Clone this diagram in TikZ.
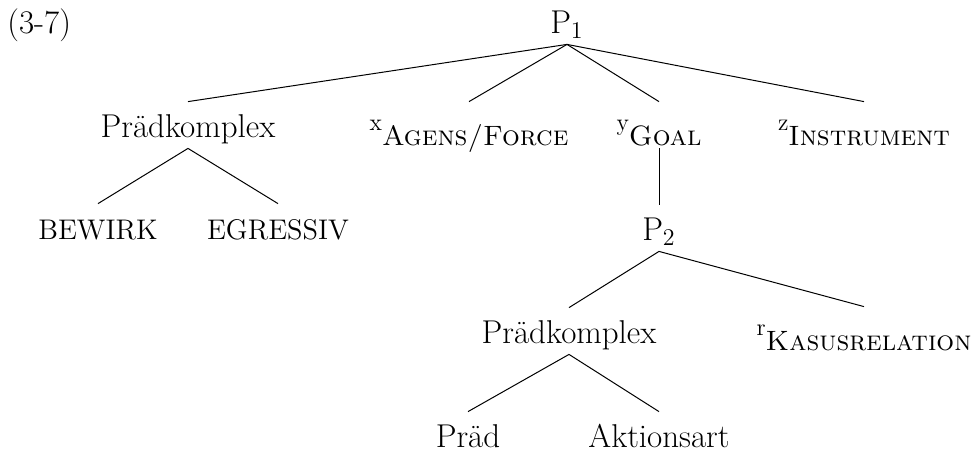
\documentclass[tikz,border=0pt]{standalone}
\usepackage{amsmath,amssymb}
\usepackage{xcolor}
\usepackage{tikz}

\newcommand{\argsub}[2]{\raisebox{7.5pt}{\fontsize{12}{14}\selectfont #1}{\fontsize{14}{17}\selectfont\textsc{#2}}}

\tikzset{
    lab/.style={anchor=base, inner sep=0pt, text height=17.5pt, text depth=5.5pt,
        font=\fontsize{16.5}{20}\selectfont},
    arglab/.style={lab, text height=21.5pt, text depth=1.5pt},
    capslab/.style={lab, font=\fontsize{14.2}{17}\selectfont},
    branch/.style={draw=black, line width=0.5pt}
}

\begin{document}
\begin{tikzpicture}[x=0.5pt, y=-0.5pt]
                \useasboundingbox (0, 0) rectangle (978, 451);

                \node[lab, anchor=base west] (exno) at (7, 33) {(3-7)};

                \node[lab] (p1) at (567, 33) {P$_1$};

                \node[lab] (pk1) at (188, 137) {Prädkomplex};
                \node[arglab] (xag) at (469, 145) {\argsub{x}{Agens/Force}};
                \node[arglab] (ygo) at (659, 145) {\argsub{y}{Goal}};
                \node[arglab] (zin) at (864, 145) {\argsub{z}{Instrument}};

                \node[capslab] (bew) at (98, 239) {BEWIRK};
                \node[capslab] (egr) at (278, 239) {EGRESSIV};

                \node[lab] (p2) at (659, 240) {P$_2$};

                \node[lab] (pk2) at (569, 343) {Prädkomplex};
                \node[arglab] (rka) at (864, 350) {\argsub{r}{Kasusrelation}};

                \node[lab] (prd) at (468, 447) {Präd};
                \node[lab] (akt) at (659, 447) {Aktionsart};

                \foreach \kid in {pk1, xag, ygo, zin}
                    \draw[branch] (p1.south) -- (\kid.north);
                \foreach \kid in {bew, egr}
                    \draw[branch] (pk1.south) -- (\kid.north);
                \draw[branch] (ygo.south) -- (p2.north);
                \foreach \kid in {pk2, rka}
                    \draw[branch] (p2.south) -- (\kid.north);
                \foreach \kid in {prd, akt}
                    \draw[branch] (pk2.south) -- (\kid.north);
            \end{tikzpicture}
\end{document}
